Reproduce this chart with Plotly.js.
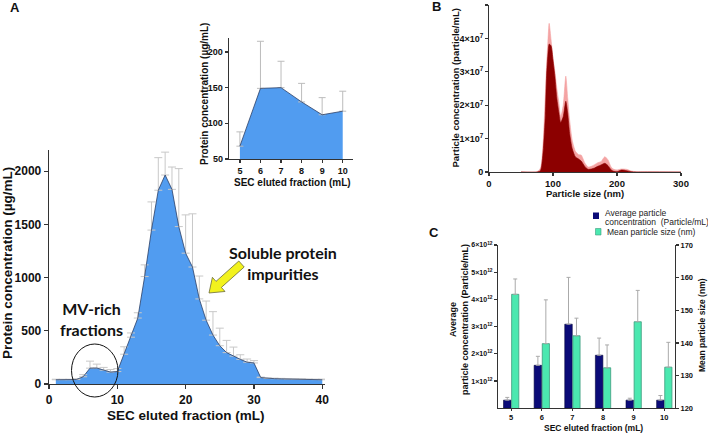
<!DOCTYPE html>
<html><head><meta charset="utf-8">
<script src="https://cdn.plot.ly/plotly-3.0.1.min.js"></script>
<style>html,body{margin:0;padding:0;background:#fff}#chart{width:708px;height:433px}</style>
</head><body><div id="chart"></div>
<script>
// ---------- Panel A (main) ----------
const fractionA = [1,2,3,4,5,6,7,8,9,10,11,12,13,14,15,16,17,18,19,20,21,22,23,24,25,26,27,28,29,30,31,32,33,34,35,36,37,38,39,40];
const proteinA  = [40,40,40,42,68,149,150,130,112,117,280,440,620,1010,1447,1822,1965,1830,1480,1230,1100,800,600,460,360,295,262,232,205,198,60,52,50,48,46,45,44,42,41,40];
const proteinErrA = [5,5,5,8,20,66,37,26,24,28,70,40,50,110,265,306,215,210,545,360,500,215,180,220,165,115,85,43,30,22,5,5,5,5,5,5,5,5,5,6];
// ---------- Panel A (inset) ----------
const fractionInset = [5,6,7,8,9,10];
const proteinInset = [68,149,150,130,112,117];
const proteinErrInset = [20,66,37,26,24,28];
// ---------- Panel B ----------
const sizeB = [50,75,80,82,85,88,90,92,94,97,100,103,106,109,112,116,120,123,126,130,135,140,144,150,155,160,165,170,175,181,186,191,195,200,207,215,222,230,250,300];
const meanB = [0,0,0.03e7,0.15e7,0.7e7,1.7e7,2.9e7,3.5e7,3.83e7,3.78e7,3.35e7,2.85e7,2.2e7,1.8e7,1.48e7,1.66e7,2.12e7,1.76e7,1.15e7,0.7e7,0.45e7,0.39e7,0.33e7,0.16e7,0.08e7,0.09e7,0.12e7,0.17e7,0.21e7,0.26e7,0.19e7,0.06e7,0.02e7,0.01e7,0.06e7,0.04e7,0.01e7,0,0,0];
const upperB = [0.005e7,0.01e7,0.1e7,0.25e7,1.0e7,2.3e7,3.2e7,3.9e7,4.45e7,3.95e7,3.4e7,3.0e7,2.5e7,2.1e7,1.65e7,2.0e7,2.87e7,2.2e7,1.55e7,0.95e7,0.62e7,0.52e7,0.51e7,0.26e7,0.15e7,0.17e7,0.22e7,0.28e7,0.31e7,0.46e7,0.36e7,0.14e7,0.08e7,0.06e7,0.09e7,0.08e7,0.03e7,0.01e7,0.005e7,0];
const tickValsB = [0,1e7,2e7,3e7,4e7,5e7];
const tickTextB = ["0","1×10<sup>7</sup>","2×10<sup>7</sup>","3×10<sup>7</sup>","4×10<sup>7</sup>","5×10<sup>7</sup>"];
// ---------- Panel C ----------
const fractionC = [5,6,7,8,9,10];
const concC = [0.3e12,1.58e12,3.09e12,1.95e12,0.3e12,0.3e12];
const concErrC = [0.1e12,0.33e12,1.72e12,0.63e12,0.07e12,0.17e12];
const sizeC = [154.9,139.8,142.2,132.4,146.5,132.6];
const sizeErrC = [4.7,13.4,5.4,7.0,9.6,7.6];
const tickValsC = [1e12,2e12,3e12,4e12,5e12,6e12];
const tickTextC = ["1×10<sup>12</sup>","2×10<sup>12</sup>","3×10<sup>12</sup>","4×10<sup>12</sup>","5×10<sup>12</sup>","6×10<sup>12</sup>"];
const legendC = ["Average particle","concentration  (Particle/mL)","Mean particle size (nm)"];

const W = 708, H = 433;
const px = v => v / W, py = v => 1 - v / H;
const FONT = "Arial, 'Liberation Sans', sans-serif";
const AX = '#333';
const zeros = a => a.map(() => 0);

const traces = [
  {x: fractionA, y: proteinA, type: 'scatter', mode: 'lines', fill: 'tozeroy',
   fillcolor: '#519cf0', line: {color: '#2b3f66', width: 0.8},
   error_y: {type: 'data', array: proteinErrA, arrayminus: zeros(proteinErrA), symmetric: false, color: '#c8c8c8', thickness: 1, width: 4},
   xaxis: 'x', yaxis: 'y'},
  {x: fractionInset, y: proteinInset, type: 'scatter', mode: 'lines', fill: 'tozeroy',
   fillcolor: '#519cf0', line: {color: '#2b3f66', width: 0.8},
   error_y: {type: 'data', array: proteinErrInset, arrayminus: zeros(proteinErrInset), symmetric: false, color: '#bcbcbc', thickness: 1, width: 3.5},
   xaxis: 'x2', yaxis: 'y2'},
  {x: sizeB, y: upperB, type: 'scatter', mode: 'lines', fill: 'tozeroy',
   fillcolor: '#f4a3a3', line: {color: '#f4a3a3', width: 0.6, shape: 'spline', smoothing: 0.6},
   xaxis: 'x3', yaxis: 'y3'},
  {x: sizeB, y: meanB, type: 'scatter', mode: 'lines', fill: 'tozeroy',
   fillcolor: '#8c0000', line: {color: '#8c0000', width: 0.6, shape: 'spline', smoothing: 0.6},
   xaxis: 'x3', yaxis: 'y3'},
  {x: fractionC, y: concC, type: 'bar', offset: -0.25, width: 0.245,
   marker: {color: '#0b0b78', line: {color: '#05053a', width: 0.6}},
   error_y: {type: 'data', array: concErrC, arrayminus: zeros(concErrC), symmetric: false, color: '#aaaaaa', thickness: 1, width: 2},
   xaxis: 'x4', yaxis: 'y4'},
  {x: fractionC, y: sizeC, type: 'bar', offset: 0.015, width: 0.235,
   marker: {color: '#4be8b0', line: {color: '#3c9a7c', width: 0.8}},
   error_y: {type: 'data', array: sizeErrC, arrayminus: zeros(sizeErrC), symmetric: false, color: '#aaaaaa', thickness: 1, width: 2},
   xaxis: 'x4', yaxis: 'y5'}
];

const baseAxis = (extra) => Object.assign({
  showgrid: false, zeroline: false, showline: true, linecolor: AX, linewidth: 1.3,
  ticks: 'outside', ticklen: 4, tickcolor: AX, tickwidth: 1.2,
  tickfont: {family: FONT, size: 12, color: '#111', weight: 'bold'}, fixedrange: true
}, extra);

const ann = (text, x, y, size, opts) => Object.assign({
  text: text, x: px(x), y: py(y), xref: 'paper', yref: 'paper', showarrow: false,
  xanchor: 'center', yanchor: 'middle',
  font: {family: FONT, size: size, color: '#111', weight: 'bold'}
}, opts || {});

// arrow polygon (pixel coordinates)
const arrowPts = [[209,293],[225,291.5],[221.4,287.4],[244.2,267],[238.8,261],[216,281.4],[212.4,277.3]];
const arrowPath = 'M' + arrowPts.map(p => px(p[0]).toFixed(5) + ',' + py(p[1]).toFixed(5)).join(' L') + ' Z';

const layout = {
  width: W, height: H, margin: {l: 0, r: 0, t: 0, b: 0},
  paper_bgcolor: '#fff', plot_bgcolor: 'rgba(0,0,0,0)', showlegend: false,
  font: {family: FONT, color: '#111'},
  xaxis: baseAxis({domain: [px(49), px(325)], range: [0, 40.4], tickvals: [0,10,20,30,40], anchor: 'y'}),
  yaxis: baseAxis({domain: [py(384), py(150)], range: [0, 2200], tickvals: [0,500,1000,1500,2000], anchor: 'x'}),
  xaxis2: baseAxis({domain: [px(229), px(353)], range: [4.47, 10.5], tickvals: [5,6,7,8,9,10], anchor: 'y2', ticklen: 3,
    tickfont: {family: FONT, size: 9, color: '#111', weight: 'bold'}}),
  yaxis2: baseAxis({domain: [py(159), py(37.7)], range: [50, 220], tickvals: [50,100,150,200], anchor: 'x2', ticklen: 3,
    tickfont: {family: FONT, size: 9, color: '#111', weight: 'bold'}}),
  xaxis3: baseAxis({domain: [px(489), px(681)], range: [0, 300], tickvals: [0,100,200,300], anchor: 'y3', ticklen: 3, linewidth: 1,
    tickfont: {family: FONT, size: 9.5, color: '#111', weight: 'bold'}}),
  yaxis3: baseAxis({domain: [py(172), py(5)], range: [0, 5e7], tickvals: tickValsB, ticktext: tickTextB, anchor: 'x3', ticklen: 3, linewidth: 1,
    tickfont: {family: FONT, size: 9, color: '#111', weight: 'bold'}}),
  xaxis4: baseAxis({domain: [px(498), px(675)], range: [4.57, 10.35], tickvals: [5,6,7,8,9,10], anchor: 'y4', ticklen: 2, linewidth: 1,
    tickfont: {family: FONT, size: 7.5, color: '#111', weight: 'bold'}}),
  yaxis4: baseAxis({domain: [py(408.3), py(245)], range: [0, 6e12], tickvals: tickValsC, ticktext: tickTextC, anchor: 'x4', ticklen: 3, linewidth: 1,
    tickfont: {family: FONT, size: 7, color: '#111', weight: 'bold'}}),
  yaxis5: baseAxis({overlaying: 'y4', side: 'right', range: [120, 170], tickvals: [120,130,140,150,160,170], anchor: 'x4', ticklen: 3, linewidth: 1,
    tickfont: {family: FONT, size: 7.5, color: '#111', weight: 'bold'}}),
  shapes: [
    {type: 'circle', xref: 'paper', yref: 'paper', x0: px(71.5), x1: px(118), y0: py(397), y1: py(344), line: {color: '#111', width: 1}},
    {type: 'path', xref: 'paper', yref: 'paper', path: arrowPath, fillcolor: '#f2f21e', line: {color: '#6b6b3a', width: 0.8}},
    {type: 'rect', xref: 'paper', yref: 'paper', x0: px(593), x1: px(599), y0: py(219), y1: py(212.5), fillcolor: '#0b0b78', line: {width: 0}},
    {type: 'rect', xref: 'paper', yref: 'paper', x0: px(595.5), x1: px(601), y0: py(235), y1: py(228.5), fillcolor: '#4be8b0', line: {color: '#3c9a7c', width: 0.6}}
  ],
  annotations: [
    ann('A', 8, 8, 13, {xanchor: 'left'}),
    ann('B', 430, 7, 13, {xanchor: 'left'}),
    ann('C', 427, 233, 13, {xanchor: 'left'}),
    ann('Protein concentration (µg/mL)', 7, 263, 13.5, {textangle: -90}),
    ann('SEC eluted fraction (mL)', 186, 415, 13.5),
    ann('Protein concentration (µg/mL)', 204, 94, 10, {textangle: -90}),
    ann('SEC eluted fraction (mL)', 292, 182, 10),
    ann('MV-rich<br>fractions', 91, 319, 16, {font: {family: "Lato, 'Open Sans', sans-serif", size: 16, color: '#111', weight: 'bold'}}),
    ann('Soluble protein<br>impurities', 283, 263, 16, {font: {family: "Lato, 'Open Sans', sans-serif", size: 16, color: '#111', weight: 'bold'}}),
    ann('Particle concentration (particle/mL)', 455, 88.5, 9.5, {textangle: -90}),
    ann('Particle size (nm)', 585, 193, 9.5),
    ann('Average<br>particle concentration (Particle/mL)', 459, 320, 9, {textangle: -90}),
    ann('Mean particle size (nm)', 702, 325, 8.5, {textangle: -90}),
    ann('SEC eluted fraction (mL)', 593, 428, 8.5),
    ann(legendC[0], 602.5, 212.7, 8.5, {xanchor: 'left', font: {family: FONT, size: 8.5, color: '#222'}}),
    ann(legendC[1], 602.5, 222, 8.5, {xanchor: 'left', font: {family: FONT, size: 8.5, color: '#222'}}),
    ann(legendC[2], 605.3, 232.3, 8.5, {xanchor: 'left', font: {family: FONT, size: 8.5, color: '#222'}})
  ]
};

Plotly.newPlot('chart', traces, layout, {displayModeBar: false, staticPlot: true});
</script>
</body></html>
